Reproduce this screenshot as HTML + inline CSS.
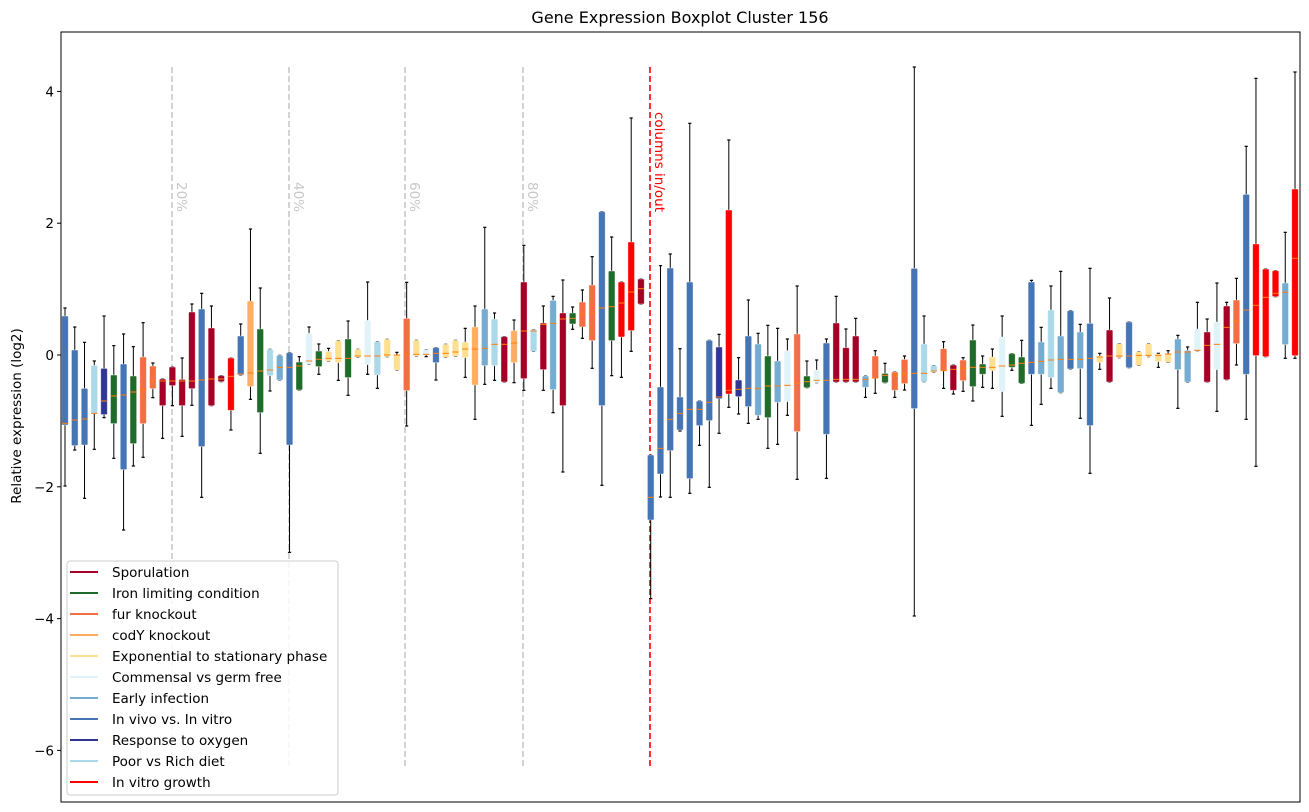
<!DOCTYPE html>
<html><head><meta charset="utf-8"><style>
body{margin:0;background:#fff;}
svg{display:block;font-family:"DejaVu Sans","Liberation Sans",sans-serif;}
</style></head><body>
<svg id="s" width="1309" height="812" xmlns="http://www.w3.org/2000/svg">
<rect width="1309" height="812" fill="#fff"/>
<text x="680" y="23" text-anchor="middle" font-size="16">Gene Expression Boxplot Cluster 156</text>
<text transform="translate(21,416) rotate(-90)" text-anchor="middle" font-size="13.5">Relative expression (log2)</text>
<g id="g"></g>
<rect x="61" y="32" width="1239" height="770" fill="none" stroke="#000" stroke-width="1"/>
</svg>
<script>
var C={S:"#a50026",G:"#1f6b2a",F:"#f46d43",C:"#fdae61",E:"#fee090",M:"#e0f3f8",A:"#74add1",B:"#4575b4",O:"#313695",P:"#abd9e9",R:"#ff0000"};
var z1=[["B",408,735,730,384,918],["B",510,797,720,441,810],["B",625,795,717,487,955],["P",556,700,700,543,808],["O",565,704,663,408,713],["G",585,731,648,497,835],["B",552,869,645,462,1050],["G",588,791,636,500,858],["F",531,731,630,428,832],["F",558,626,603,549,653],["S",597,677,603,597,775],["S",561,617,603,561,677],["S",598,677,603,534,769],["S",396,626,603,372,676],["B",387,800,600,340,952],["S",444,677,597,378,677],["S",587,605,597,587,605],["R",534,691,589,534,750],["B",468,585,582,432,585],["C",363,620,579,147,658],["G",447,698,573,324,820],["P",508,587,570,508,633],["A",526,600,562,526,600],["B",518,795,562,518,1117],["G",546,630,558,530,630],["M",460,553,543,441,553],["G",513,560,538,492,583],["E",514,543,535,505,543],["E",482,548,535,482,601],["G",477,593,535,423,646],["E",508,531,528,508,531],["M",421,554,528,306,583]];
var z2=[["P",725,825,768,725,865],["E",718,770,765,718,770],["E",765,810,765,757,810],["F",655,872,763,547,978],["E",721,768,763,721,768],["M",749,765,763,749,770],["B",743,788,760,743,840],["E",733,772,760,733,772],["E",721,768,756,721,768],["E",726,773,747,685,832],["C",681,855,747,618,958],["A",627,797,745,382,853],["P",657,797,733,639,841],["S",710,846,733,710,846],["C",692,788,729,660,848],["S",546,836,693,436,871],["P",689,754,693,689,754],["S",669,809,673,618,871],["A",601,869,670,589,938],["S",639,917,657,540,1116],["G",639,672,655,621,688],["F",606,681,642,570,715],["F",555,722,639,470,805],["B",335,917,624,335,1156],["G",513,722,620,411,827],["R",546,711,609,546,832],["R",426,692,576,54,754],["S",537,612,566,537,612]];
var z3=[["B",1065,1260,1192,1065,1496],["B",861,1122,1045,497,1191],["B",504,1052,958,462,1192],["B",891,990,940,746,993],["B",546,1136,928,70,1180],["B",903,977,928,903,1036],["B",721,962,907,721,1162],["O",741,896,891,703,1000],["R",330,882,871,120,922],["O",840,890,868,773,942],["B",708,920,865,600,970],["A",732,946,865,700,958],["G",768,953,858,676,1045],["A",783,907,858,685,1033],["M",752,905,856,717,946],["F",702,995,850,558,1138],["G",828,863,845,783,863],["M",810,848,841,780,848],["B",729,1003,841,717,1135],["S",669,846,838,589,846],["S",743,846,838,687,846],["S",708,846,838,655,846],["A",828,862,838,828,892],["F",768,834,834,752,880],["G",820,848,826,790,848],["F",816,871,824,816,892],["F",778,851,822,768,870],["B",505,926,820,-99,1548],["P",732,845,820,648,845],["P",797,816,813,797,816],["F",746,812,812,725,865],["S",795,871,808,795,882],["F",780,842,805,773,874]];
var z4=[["G",840,980,922,795,1023],["G",912,943,922,888,982],["E",891,932,922,867,985],["M",831,995,918,768,1069],["G",881,922,915,881,931],["G",891,970,910,841,970],["B",666,943,907,661,1096],["A",846,943,904,802,1033],["P",750,953,900,678,985],["A",828,998,898,634,998],["B",752,927,898,752,927],["A",816,926,898,793,1075],["B",790,1097,895,625,1240],["E",888,908,891,880,928],["S",810,966,888,714,966],["E",851,893,888,851,893],["B",786,923,888,786,923],["E",875,916,886,875,916],["E",851,890,886,851,890],["E",882,905,886,880,922],["E",882,907,882,872,907],["A",837,929,876,826,1045],["A",871,966,876,861,966],["M",807,872,871,727,872],["S",816,966,856,777,966],["M",786,929,853,669,1054],["S",738,959,802,727,959],["F",720,851,784,655,915],["B",403,943,750,259,1078],["R",552,887,736,55,1219],["R",627,890,712,627,890],["R",632,710,700,632,710],["A",669,854,697,517,895],["R",387,887,595,36,895]];
var all=[];
z1.forEach(function(b){all.push([b,180]);});
z2.forEach(function(b){all.push([b,100]);});
z3.forEach(function(b){all.push([b,100]);});
z4.forEach(function(b){all.push([b,60]);});
var h='';
function Y(v){return 355-65.9*v;}
[4,2,0,-2,-4,-6].forEach(function(v){var y=Y(v);h+='<line x1="57" x2="61" y1="'+y+'" y2="'+y+'" stroke="#000"/>';h+='<text x="54" y="'+(y+5)+'" text-anchor="end" font-size="13.5">'+(v<0?'\u2212'+(-v):v)+'</text>';});
[[172,"20%"],[289,"40%"],[405,"60%"],[523,"80%"]].forEach(function(p){h+='<line x1="'+p[0]+'" x2="'+p[0]+'" y1="67" y2="767" stroke="#c8c8c8" stroke-width="1.6" stroke-dasharray="6,3"/>';h+='<text transform="translate('+(p[0]+5)+',182) rotate(90)" font-size="13.5" fill="#c8c8c8">'+p[1]+'</text>';});
h+='<line x1="650" x2="650" y1="67" y2="767" stroke="#ff0000" stroke-width="1.6" stroke-dasharray="6,3"/>';
h+='<text transform="translate(655,112) rotate(90)" font-size="13.5" fill="#ff0000">columns in/out</text>';
all.forEach(function(e,i){var b=e[0],oy=e[1];var x=65+i*9.762;
 function r(z){return oy+z/3;}
 var t=r(b[1]),bo=r(b[2]),m=r(b[3]),wt=r(b[4]),wb=r(b[5]);
 if(i==87){wt=67;wb=616;}
 h+='<line x1="'+x+'" x2="'+x+'" y1="'+wt+'" y2="'+wb+'" stroke="#000" stroke-width="1"/>';
 h+='<line x1="'+(x-1.6)+'" x2="'+(x+1.6)+'" y1="'+wt+'" y2="'+wt+'" stroke="#000" stroke-width="1.2"/>';
 h+='<line x1="'+(x-1.6)+'" x2="'+(x+1.6)+'" y1="'+wb+'" y2="'+wb+'" stroke="#000" stroke-width="1.2"/>';
 h+='<rect x="'+(x-3.3)+'" y="'+t+'" width="6.6" height="'+Math.max(bo-t,1)+'" rx="1" fill="'+C[b[0]]+'" stroke="#fff" stroke-opacity="0.5" stroke-width="0.8"/>';
 h+='<line x1="'+(x-3.2)+'" x2="'+(x+3.2)+'" y1="'+m+'" y2="'+m+'" stroke="#ff7f0e" stroke-width="1"/>';
});
h+='<rect x="67" y="561" width="271" height="234" rx="3" fill="#fff" fill-opacity="0.85" stroke="#ccc"/>';
var L=[["S","Sporulation"],["G","Iron limiting condition"],["F","fur knockout"],["C","codY knockout"],["E","Exponential to stationary phase"],["M","Commensal vs germ free"],["A","Early infection"],["B","In vivo vs. In vitro"],["O","Response to oxygen"],["P","Poor vs Rich diet"],["R","In vitro growth"]];
L.forEach(function(l,k){var y=572+k*21;h+='<line x1="70" x2="98" y1="'+y+'" y2="'+y+'" stroke="'+C[l[0]]+'" stroke-width="2"/>';h+='<text x="112" y="'+(y+5)+'" font-size="13.5">'+l[1]+'</text>';});
document.getElementById('g').innerHTML=h;
</script>
</body></html>
